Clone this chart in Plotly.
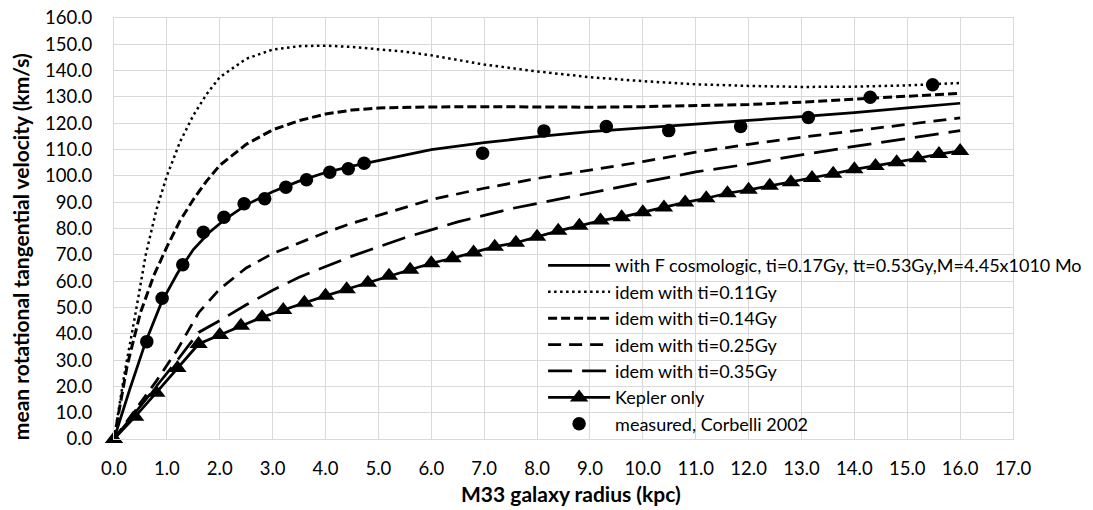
import plotly.graph_objects as go

# Radius grid (kpc) and rotational velocity curves (km/s)
r_cosmo = [0, 0.3, 0.6, 0.9, 1.2, 1.5, 1.8, 2.1, 2.5, 3.0, 3.5, 4.0, 4.5, 5.0, 5.5, 6.0,
           7.0, 8.0, 9.0, 10.0, 11.0, 12.0, 13.0, 14.0, 15.0, 16.0]
v_cosmo = [0, 19, 37, 52, 63, 72, 78.5, 83.5, 89, 94, 98, 101.3, 103.7, 105.8, 107.9, 110.0,
           112.6, 114.9, 116.8, 118.3, 119.8, 121.1, 122.5, 124.0, 125.8, 127.6]

r_ti011 = [0, 0.2, 0.4, 0.6, 0.8, 1.0, 1.25, 1.5, 1.75, 2.0, 2.5, 3.0, 3.5, 4.0, 4.5, 5.0,
           5.5, 6.0, 6.5, 7.0, 8.0, 9.0, 10.0, 11.0, 12.0, 13.0, 14.0, 15.0, 16.0]
v_ti011 = [0, 25, 47, 70, 87, 100, 113, 123, 131, 137.5, 144.5, 148, 149.3, 149.5, 149, 148.2,
           147.2, 145.8, 144, 142.3, 139.7, 137.5, 136, 134.8, 134.2, 133.8, 133.9, 134.4, 135.3]

r_ti014 = [0, 0.25, 0.5, 0.75, 1.0, 1.25, 1.5, 1.75, 2.0, 2.5, 3.0, 3.5, 4.0, 4.5, 5.0,
           6.0, 7.0, 8.0, 9.0, 10.0, 11.0, 12.0, 13.0, 14.0, 15.0, 16.0]
v_ti014 = [0, 28, 48, 62, 73, 83, 91, 98, 104, 112, 117.5, 121, 123.5, 125, 125.8,
           126.2, 126.3, 126.2, 126.1, 126.3, 126.6, 127.1, 128.0, 129.2, 130.3, 131.4]

r_ti025 = [0, 0.4, 0.8, 1.2, 1.6, 2.0, 2.5, 3.0, 3.5, 4.0, 4.5, 5.0, 5.5, 6.0,
           7.0, 8.0, 9.0, 10.0, 11.0, 12.0, 13.0, 14.0, 15.0, 16.0]
v_ti025 = [0, 11, 22, 34, 48, 57, 65, 70.5, 74.5, 78.5, 82, 85, 88, 91,
           95.3, 99, 102.2, 105.4, 109, 112, 114.7, 117.2, 119.6, 122]

r_ti035 = [0, 0.4, 0.8, 1.2, 1.6, 2.0, 2.5, 3.0, 3.5, 4.0, 4.5, 5.0, 5.5, 6.0, 6.5,
           7.0, 7.5, 8.0, 9.0, 10.0, 11.0, 12.0, 13.0, 14.0, 15.0, 16.0]
v_ti035 = [0, 10, 20, 30, 40.5, 45, 51, 56.5, 61.5, 65.5, 69.5, 73, 76.5, 79.5, 82.5,
           85, 87.5, 89.5, 93.5, 97.7, 101.5, 104.5, 108, 111.2, 114.3, 117.2]

# Keplerian curve sampled every 0.4 kpc
r_kepler = [round(0.4 * i, 1) for i in range(41)]
v_kepler = [0, 8.5, 17.6, 27, 36.1, 39.5, 43, 46.3, 49, 51.8, 54.4, 56.9, 59.4, 62, 64.3,
            66.8, 68.7, 70.9, 73.1, 74.6, 76.9, 79.1, 81.0, 83.0, 84.3, 86.2, 88.0, 89.9,
            91.5, 93.4, 94.7, 96.2, 97.6, 99.2, 100.8, 102.5, 103.8, 105.2, 106.7, 108.3, 109.5]

# Observed rotation curve (Corbelli 2002)
r_meas = [0.62, 0.91, 1.30, 1.69, 2.08, 2.46, 2.85, 3.25, 3.64, 4.08, 4.43, 4.73,
          6.97, 8.13, 9.31, 10.49, 11.85, 13.13, 14.30, 15.48]
v_meas = [37.0, 53.5, 66.2, 78.6, 84.3, 89.4, 91.3, 95.7, 98.5, 101.4, 102.7, 104.8,
          108.6, 117.1, 118.8, 117.2, 118.8, 122.2, 129.9, 134.6]

x_ticks = [float(i) for i in range(18)]
y_ticks = [float(v) for v in range(0, 161, 10)]

x_title = "M33 galaxy radius (kpc)"
y_title = "mean rotational tangential velocity (km/s)"

FONT = "Lato"
BLACK = "#000000"
GRID = "#d9d9d9"

fig = go.Figure()
fig.add_trace(go.Scatter(x=r_cosmo, y=v_cosmo, mode="lines",
                         name="with F cosmologic, ti=0.17Gy, tt=0.53Gy,M=4.45x1010 Mo",
                         line=dict(color=BLACK, width=2.75)))
fig.add_trace(go.Scatter(x=r_ti011, y=v_ti011, mode="lines", name="idem with ti=0.11Gy",
                         line=dict(color=BLACK, width=2.5, dash="2.5px,3.5px")))
fig.add_trace(go.Scatter(x=r_ti014, y=v_ti014, mode="lines", name="idem with ti=0.14Gy",
                         line=dict(color=BLACK, width=3, dash="9px,4px")))
fig.add_trace(go.Scatter(x=r_ti025, y=v_ti025, mode="lines", name="idem with ti=0.25Gy",
                         line=dict(color=BLACK, width=2.75, dash="13px,8px")))
fig.add_trace(go.Scatter(x=r_ti035, y=v_ti035, mode="lines", name="idem with ti=0.35Gy",
                         line=dict(color=BLACK, width=2.75, dash="24px,10px")))
fig.add_trace(go.Scatter(x=r_kepler, y=v_kepler, mode="lines+markers", name="Kepler only",
                         line=dict(color=BLACK, width=2.75),
                         marker=dict(symbol="triangle-up", size=16, color=BLACK),
                         cliponaxis=False))
fig.add_trace(go.Scatter(x=r_meas, y=v_meas, mode="markers", name="measured, Corbelli 2002",
                         marker=dict(symbol="circle", size=13.5, color=BLACK),
                         cliponaxis=False))

axis_common = dict(showgrid=True, gridcolor=GRID, gridwidth=1, zeroline=False,
                   showline=True, linecolor=GRID, linewidth=1, mirror=True,
                   tickfont=dict(family=FONT, size=18.5, color=BLACK), ticks="",
                   tickformat=".1f", automargin=False)

fig.update_xaxes(range=[0, 17], tickvals=x_ticks, ticklabelstandoff=13, **axis_common)
fig.update_yaxes(range=[0, 160], tickvals=y_ticks, ticklabelstandoff=17, **axis_common)

# Axis titles placed as paper-anchored labels
fig.add_annotation(text=f"<b>{x_title}</b>", xref="paper", yref="paper",
                   x=0.508, y=-0.1306, xanchor="center", yanchor="middle", showarrow=False,
                   font=dict(family=FONT, size=21, color=BLACK))
fig.add_annotation(text=f"<b>{y_title}</b>", xref="paper", yref="paper",
                   x=-0.1046, y=0.458, xanchor="center", yanchor="middle", showarrow=False,
                   textangle=-90, font=dict(family=FONT, size=21, color=BLACK))

fig.update_layout(
    width=1093, height=510, autosize=False,
    margin=dict(l=114, r=80, t=18, b=71, autoexpand=False),
    paper_bgcolor="white", plot_bgcolor="white",
    font=dict(family=FONT, color=BLACK),
    legend=dict(x=0.4773, y=0.4556, xanchor="left", yanchor="top",
                bgcolor="rgba(0,0,0,0)", borderwidth=0, itemwidth=62,
                font=dict(family=FONT, size=18, color=BLACK)),
)

fig.write_html("out.html")
